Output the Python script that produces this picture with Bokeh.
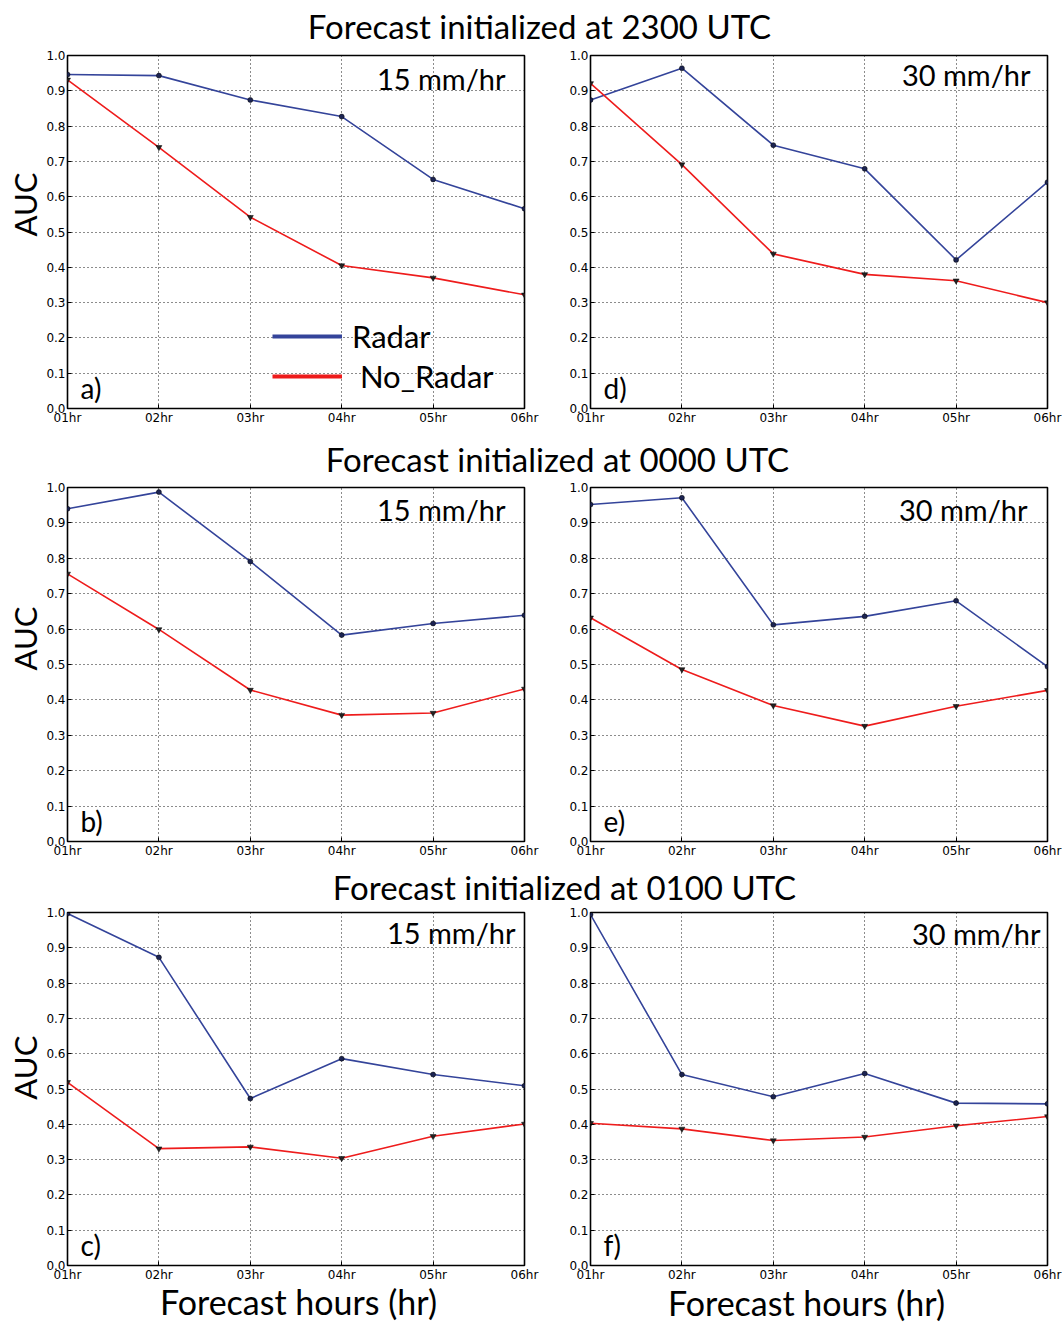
from bokeh.plotting import figure
from bokeh.layouts import column, row
from bokeh.models import (Range1d, FixedTicker, Label, Legend, LegendItem,
                          PrintfTickFormatter)
from bokeh.embed import file_html
from bokeh.resources import INLINE
import math

# ---------------- data ----------------
hours = [1, 2, 3, 4, 5, 6]
hour_labels = ["01hr", "02hr", "03hr", "04hr", "05hr", "06hr"]
y_ticks = [0.0, 0.1, 0.2, 0.3, 0.4, 0.5, 0.6, 0.7, 0.8, 0.9, 1.0]

# a) 2300 UTC, 15 mm/hr
a_radar = [0.946, 0.943, 0.874, 0.827, 0.649, 0.566]
a_noradar = [0.931, 0.740, 0.542, 0.405, 0.370, 0.322]
# d) 2300 UTC, 30 mm/hr
d_radar = [0.874, 0.964, 0.746, 0.679, 0.421, 0.641]
d_noradar = [0.921, 0.691, 0.438, 0.380, 0.362, 0.300]
# b) 0000 UTC, 15 mm/hr
b_radar = [0.940, 0.987, 0.791, 0.583, 0.616, 0.639]
b_noradar = [0.756, 0.599, 0.428, 0.357, 0.363, 0.431]
# e) 0000 UTC, 30 mm/hr
e_radar = [0.952, 0.971, 0.612, 0.636, 0.680, 0.494]
e_noradar = [0.632, 0.486, 0.384, 0.326, 0.382, 0.427]
# c) 0100 UTC, 15 mm/hr
c_radar = [0.997, 0.873, 0.473, 0.586, 0.541, 0.509]
c_noradar = [0.519, 0.331, 0.336, 0.304, 0.366, 0.401]
# f) 0100 UTC, 30 mm/hr
f_radar = [0.994, 0.541, 0.478, 0.544, 0.460, 0.458]
f_noradar = [0.403, 0.387, 0.354, 0.364, 0.396, 0.422]

row_titles = ["Forecast initialized at 2300 UTC",
              "Forecast initialized at 0000 UTC",
              "Forecast initialized at 0100 UTC"]
series_names = ["Radar", " No_Radar"]
x_title = "Forecast hours (hr)"
y_title = "AUC"

# ---------------- style ----------------
BIG_FONT = "Lato"
TICK_FONT = "DejaVu Sans"
BLUE = "#34449a"
BLUE_MK = "#1c2452"
RED = "#ee1c1c"
STRIP_W = 43
W_LEFT, W_RIGHT = 560 - STRIP_W, 502
TOTAL_W = STRIP_W + W_LEFT + W_RIGHT
FRAME_W = 457
PX_PER_X = FRAME_W / 5.0


def make_panel(left_col, height, frame_h, mb_top, mb_bottom, radar, noradar,
               thr_text, thr_right_px, thr_y, letter, legend=False):
    if left_col:
        width, mbl = W_LEFT, 67 - STRIP_W
    else:
        width, mbl = W_RIGHT, 30
    mbr = width - mbl - FRAME_W
    p = figure(width=width, height=height, x_range=Range1d(1, 6),
               y_range=Range1d(0, 1), output_backend="svg",
               toolbar_location=None, min_border_left=mbl,
               min_border_right=mbr, min_border_top=mb_top,
               min_border_bottom=mb_bottom)
    p.xaxis.ticker = FixedTicker(ticks=hours)
    p.xaxis.major_label_overrides = {h: l for h, l in zip(hours, hour_labels)}
    p.yaxis.ticker = FixedTicker(ticks=y_ticks)
    p.yaxis.formatter = PrintfTickFormatter(format="%.1f")
    for ax in (p.xaxis, p.yaxis):
        ax.axis_line_color = None
        ax.major_tick_in = 4
        ax.major_tick_out = 0
        ax.major_tick_line_color = "black"
        ax.minor_tick_line_color = None
        ax.major_label_text_font = TICK_FONT
        ax.major_label_text_font_size = "12px"
        ax.major_label_text_color = "black"
    p.xaxis.major_label_standoff = 2
    p.yaxis.major_label_standoff = 2
    for g in (p.xgrid, p.ygrid):
        g.grid_line_color = "black"
        g.grid_line_dash = "1 3"
        g.grid_line_alpha = 0.9
        g.grid_line_width = 1
    p.outline_line_color = "black"
    p.outline_line_width = 1.6
    p.background_fill_color = "white"
    p.border_fill_color = "white"

    p.line(hours, radar, line_color=BLUE, line_width=1.6)
    p.scatter(hours, radar, marker="circle", size=5, fill_color=BLUE_MK,
              line_color="black", line_width=0.5)
    p.line(hours, noradar, line_color=RED, line_width=1.6)
    p.scatter(hours, noradar, marker="inverted_triangle", size=6,
              fill_color="#222222", line_color="black", line_width=0.5)

    x0 = 1.0
    p.add_layout(Label(x=x0 + thr_right_px / PX_PER_X, y=thr_y, text=thr_text,
                       text_font=BIG_FONT, text_font_size="29px",
                       text_align="right", text_baseline="middle",
                       text_color="black"))
    p.add_layout(Label(x=x0 + 13 / PX_PER_X, y=21 / frame_h, text=letter,
                       text_font=BIG_FONT, text_font_size="28px",
                       text_align="left", text_baseline="middle",
                       text_color="black"))
    if legend:
        # hidden copies of the two series, only used to draw the legend keys
        r1 = p.line(hours, radar, line_color=BLUE, line_width=4, visible=False)
        r2 = p.line(hours, noradar, line_color=RED, line_width=4, visible=False)
        lg = Legend(items=[LegendItem(label=series_names[0], renderers=[r1]),
                           LegendItem(label=series_names[1], renderers=[r2])],
                    location=(205, 13), border_line_color=None,
                    background_fill_alpha=0, padding=0, margin=0,
                    glyph_width=70, glyph_height=30, label_height=30,
                    spacing=2, label_standoff=10, click_policy="none",
                    label_text_font=BIG_FONT, label_text_font_size="31px",
                    label_text_color="black")
        p.add_layout(lg, "center")
    return p


def blank(width, height):
    p = figure(width=width, height=height, x_range=Range1d(0, width),
               y_range=Range1d(0, height), output_backend="svg",
               toolbar_location=None, min_border=0)
    p.axis.visible = False
    p.grid.visible = False
    p.outline_line_color = None
    p.background_fill_color = "white"
    p.border_fill_color = "white"
    return p


def make_text_strip(height, labels, size="33px"):
    p = blank(TOTAL_W, height)
    for text, x, y in labels:
        p.add_layout(Label(x=x, y=y, text=text, text_font=BIG_FONT,
                           text_font_size=size, text_align="center",
                           text_baseline="middle", text_color="black"))
    return p


def make_auc_strip(height, y):
    p = blank(STRIP_W, height)
    p.add_layout(Label(x=24, y=y, text=y_title, text_font=BIG_FONT,
                       text_font_size="31px", text_align="center",
                       text_baseline="middle", angle=math.pi / 2,
                       text_color="black"))
    return p


t1 = make_text_strip(48, [(row_titles[0], 539, 23)])
s1 = make_auc_strip(384, 222)
pa = make_panel(True, 384, 353, 7, 24, a_radar, a_noradar, "15 mm/hr", 438,
                0.935, "a)", legend=True)
pd = make_panel(False, 384, 353, 7, 24, d_radar, d_noradar, "30 mm/hr", 440,
                0.946, "d)")
t2 = make_text_strip(48, [(row_titles[1], 557, 22)])
s2 = make_auc_strip(382, 219)
pb = make_panel(True, 382, 354, 7, 21, b_radar, b_noradar, "15 mm/hr", 438,
                0.938, "b)")
pe = make_panel(False, 382, 354, 7, 21, e_radar, e_noradar, "30 mm/hr", 437,
                0.938, "e)")
t3 = make_text_strip(43, [(row_titles[2], 564, 19)])
s3 = make_auc_strip(380, 213)
pc = make_panel(True, 380, 353, 7, 20, c_radar, c_noradar, "15 mm/hr", 448,
                0.943, "c)")
pf = make_panel(False, 380, 353, 7, 20, f_radar, f_noradar, "30 mm/hr", 450,
                0.941, "f)")
xl = make_text_strip(37, [(x_title, 298, 21), (x_title, 806, 20)], size="34px")

layout = column(t1, row(s1, pa, pd), t2, row(s2, pb, pe), t3,
                row(s3, pc, pf), xl)
open("out.html", "w").write(file_html(layout, INLINE))
